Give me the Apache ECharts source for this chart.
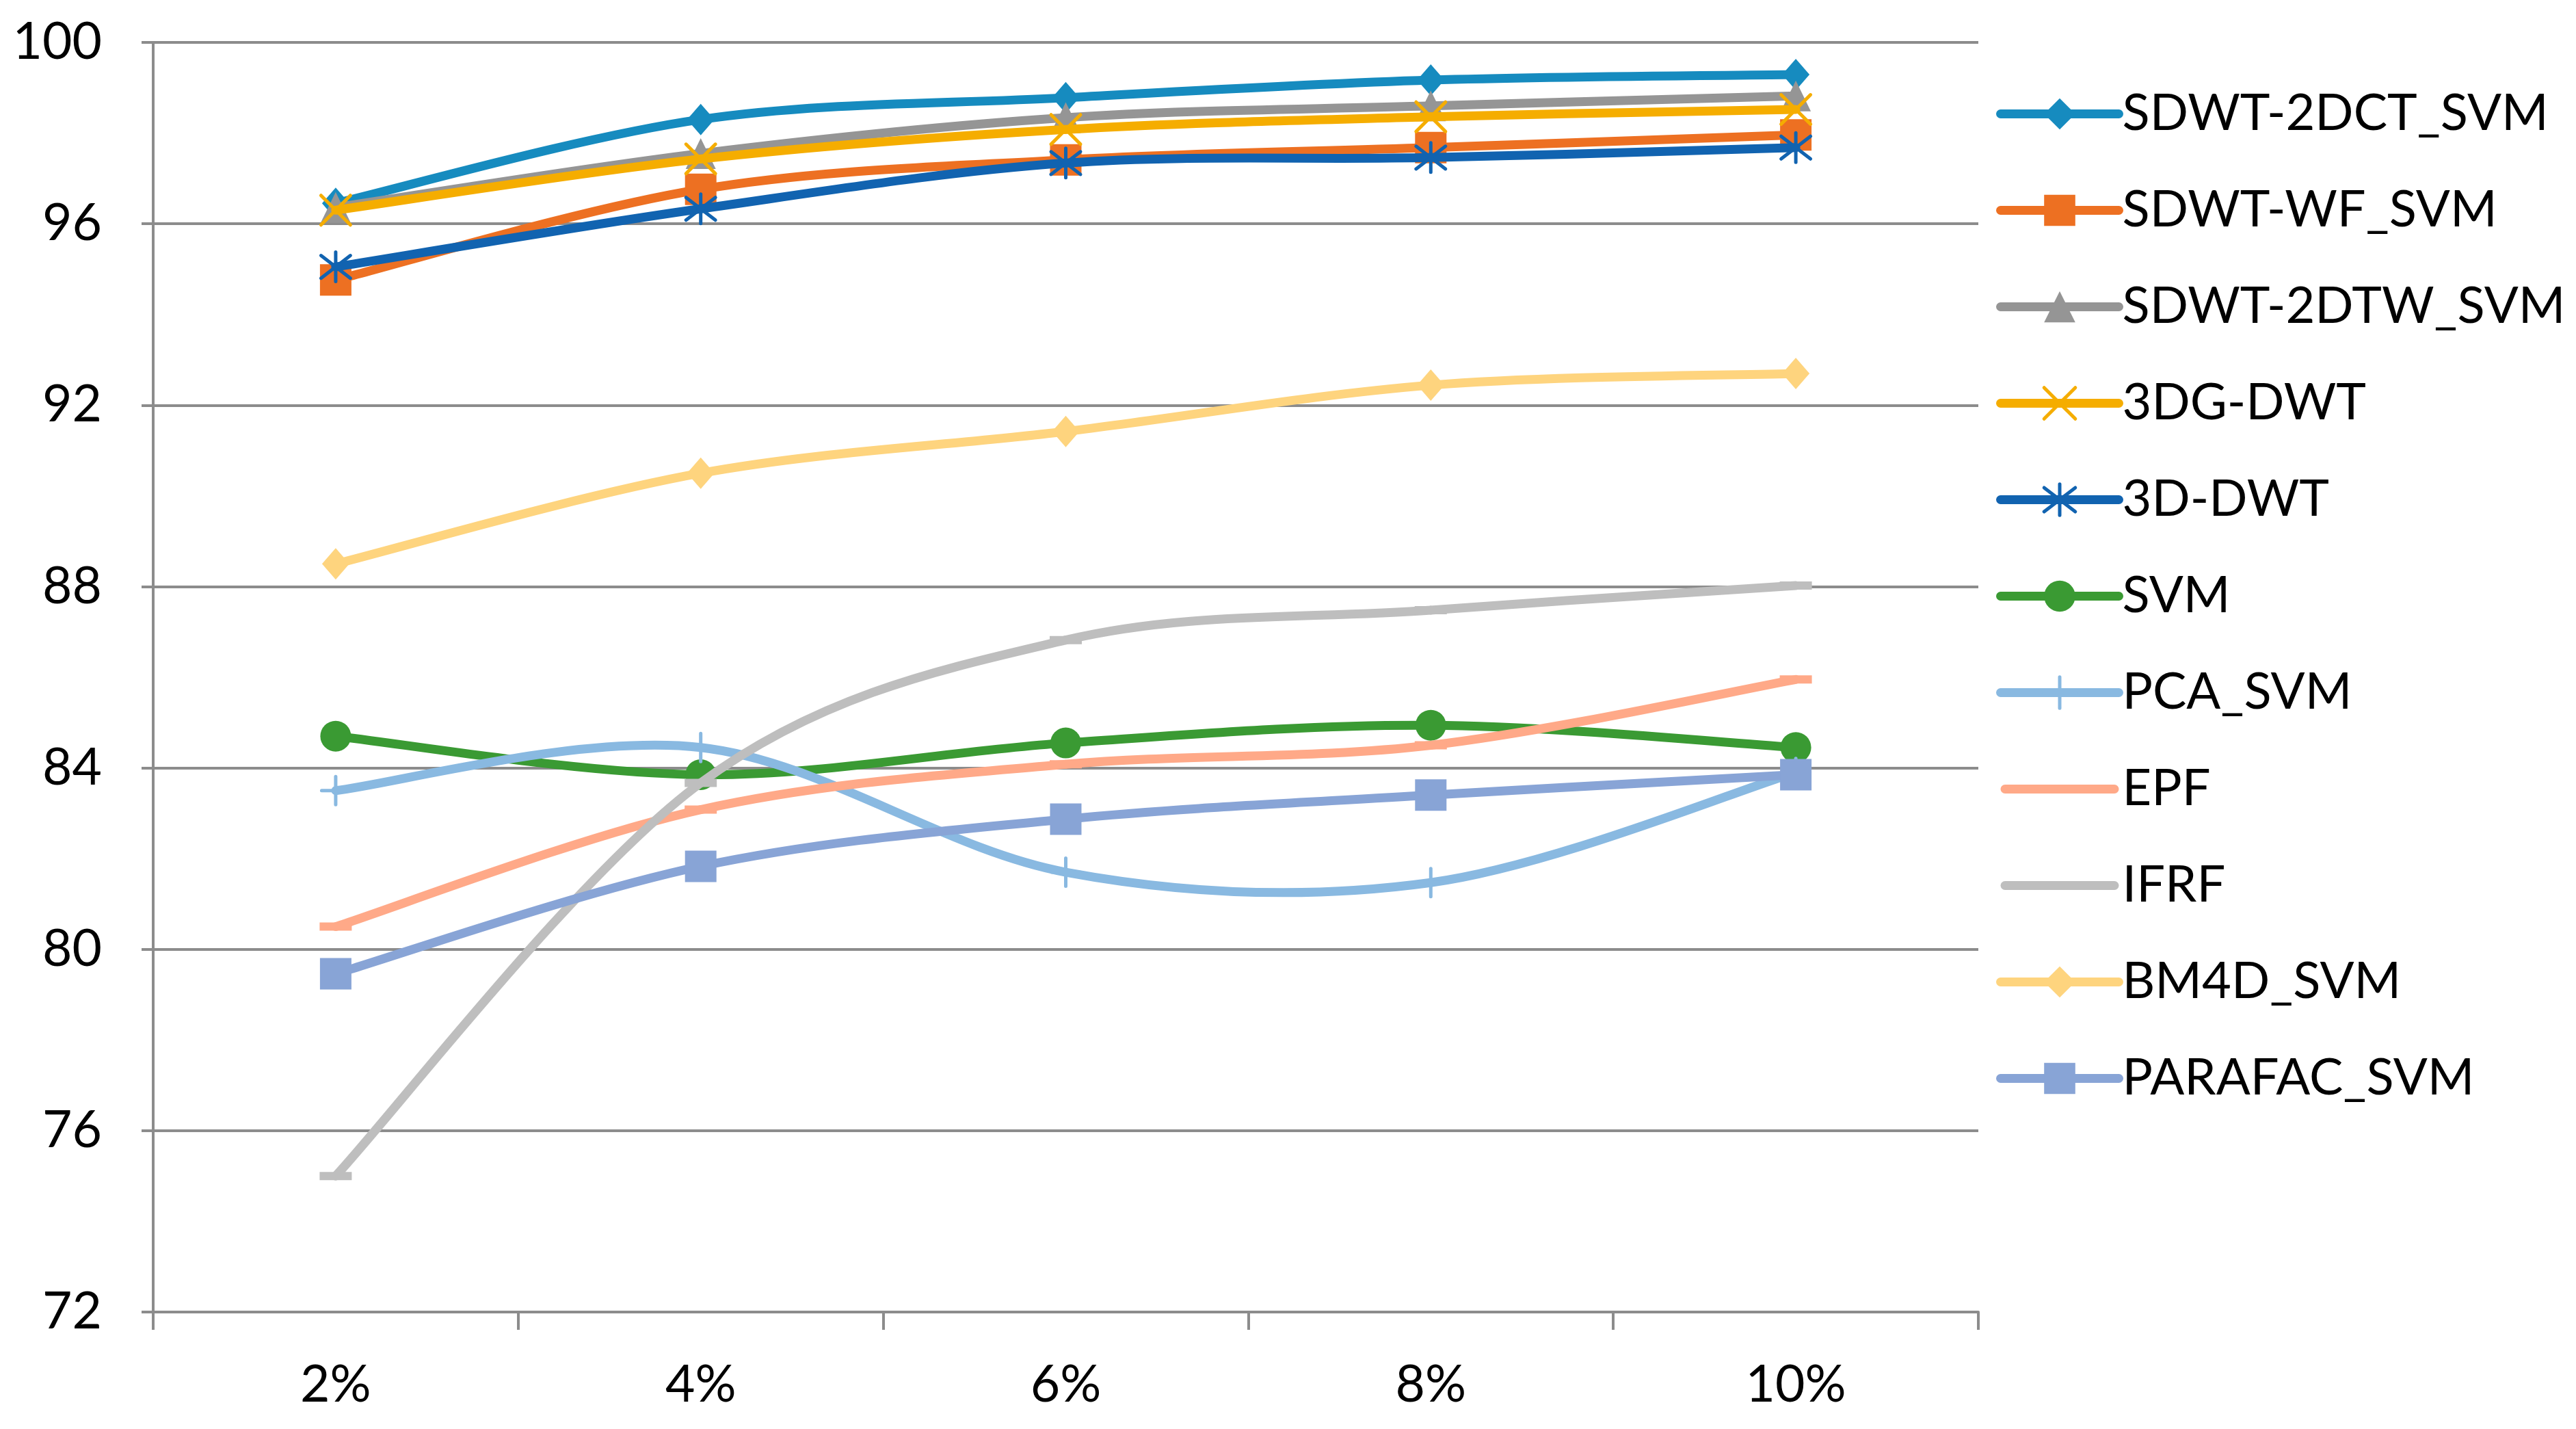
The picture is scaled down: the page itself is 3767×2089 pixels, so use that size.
<!DOCTYPE html>
<html>
<head>
<meta charset="utf-8">
<script src="https://cdn.jsdelivr.net/npm/echarts@6/dist/echarts.min.js"></script>
<style>
html,body{margin:0;padding:0;background:#ffffff;}
#chart{width:3767px;height:2089px;}
</style>
</head>
<body>
<div id="chart"></div>
<script>
// ---- data ----
const categories = ['2%', '4%', '6%', '8%', '10%'];
const yTicks = [72, 76, 80, 84, 88, 92, 96, 100];

const seriesNames = ['SDWT-2DCT_SVM', 'SDWT-WF_SVM', 'SDWT-2DTW_SVM', '3DG-DWT', '3D-DWT',
  'SVM', 'PCA_SVM', 'EPF', 'IFRF', 'BM4D_SVM', 'PARAFAC_SVM'];

const sdwt2dct   = [96.45, 98.3, 98.78, 99.17, 99.29];
const sdwtWf     = [94.76, 96.76, 97.41, 97.68, 97.96];
const sdwt2dtw   = [96.36, 97.55, 98.34, 98.6, 98.82];
const dg3dwt     = [96.3, 97.43, 98.08, 98.36, 98.52];
const d3dwt      = [95.05, 96.33, 97.34, 97.46, 97.68];
const svm        = [84.7, 83.85, 84.55, 84.94, 84.45];
const pcaSvm     = [83.5, 84.45, 81.7, 81.47, 83.9];
const epf        = [80.5, 83.08, 84.08, 84.5, 85.95];
const ifrf       = [75.0, 83.67, 86.82, 87.48, 88.02];
const bm4dSvm    = [88.5, 90.5, 91.42, 92.44, 92.7];
const parafacSvm = [79.46, 81.83, 82.87, 83.4, 83.85];

const seriesValues = [sdwt2dct, sdwtWf, sdwt2dtw, dg3dwt, d3dwt, svm, pcaSvm, epf, ifrf, bm4dSvm, parafacSvm];

// ---- styles ----
const colors = ['#168bbf', '#ed7022', '#959595', '#f5ad00', '#1163b0',
  '#3a9a33', '#89b9e1', '#ffa988', '#bebebe', '#fed47e', '#88a4d6'];

const X_PATH = 'path://M0,0L10,10M10,0L0,10';
const AST_PATH = 'path://M0,0L10,10M10,0L0,10M5,-1.5L5,11.5';
const PLUS_PATH = 'path://M5,0L5,10M0,5L10,5';
const LEG_LINE = 'path://M6.5,0L166.5,0A6.5,6.5 0 0 1 166.5,13L6.5,13A6.5,6.5 0 0 1 6.5,0Z';

const symbols = [
  {symbol: 'diamond', size: [40, 46], stroke: false},
  {symbol: 'rect', size: [46, 46], stroke: false},
  {symbol: 'triangle', size: [44, 45], stroke: false},
  {symbol: X_PATH, size: [43, 43], stroke: true},
  {symbol: AST_PATH, size: [43, 43], stroke: true},
  {symbol: 'circle', size: [45, 45], stroke: false},
  {symbol: PLUS_PATH, size: [41, 41], stroke: true},
  {symbol: 'rect', size: [47, 12], stroke: false, dash: true},
  {symbol: 'rect', size: [47, 12], stroke: false, dash: true},
  {symbol: 'diamond', size: [40, 46], stroke: false},
  {symbol: 'rect', size: [46, 46], stroke: false}
];

const FONT = 'Lato';
const AXIS_FS = 75;
const LEG_FS = 74;
const AXIS_COLOR = '#8c8c8c';
const LINE_W = 13;

// Smooth curve (Catmull-Rom style, like spreadsheet smoothing) drawn segment by segment
function curveRenderer(color) {
  return function (params, api) {
    const i = params.dataIndexInside;
    const n = params.dataInsideLength;
    if (i >= n - 1) return null;
    const pt = (k) => {
      const kk = Math.max(0, Math.min(n - 1, k));
      return api.coord([api.value(0, kk), api.value(1, kk)]);
    };
    const p0 = pt(i - 1), p1 = pt(i), p2 = pt(i + 1), p3 = pt(i + 2);
    const c1 = [p1[0] + (p2[0] - p0[0]) / 6, p1[1] + (p2[1] - p0[1]) / 6];
    const c2 = [p2[0] - (p3[0] - p1[0]) / 6, p2[1] - (p3[1] - p1[1]) / 6];
    const d = 'M' + p1[0] + ',' + p1[1] + 'C' + c1[0] + ',' + c1[1] + ' ' + c2[0] + ',' + c2[1] + ' ' + p2[0] + ',' + p2[1];
    return {
      type: 'path',
      shape: {pathData: d},
      style: {stroke: color, lineWidth: LINE_W, fill: null, lineCap: 'round', lineJoin: 'round'},
      silent: true
    };
  };
}

const series = [];
seriesNames.forEach((name, i) => {
  series.push({
    name: name + ' (curve)',
    type: 'custom',
    coordinateSystem: 'cartesian2d',
    data: seriesValues[i].map((v, j) => [j, v]),
    renderItem: curveRenderer(colors[i]),
    encode: {x: 0, y: 1},
    z: 10 + 2 * i,
    silent: true,
    animation: false
  });
  series.push({
    name: name,
    type: 'line',
    data: seriesValues[i],
    symbol: symbols[i].symbol,
    symbolSize: symbols[i].size,
    showSymbol: true,
    showAllSymbol: true,
    symbolKeepAspect: false,
    lineStyle: {color: colors[i], width: LINE_W, cap: 'round', opacity: 0},
    itemStyle: symbols[i].stroke
      ? {color: colors[i], borderColor: colors[i], borderWidth: 5, borderCap: 'round'}
      : {color: colors[i], borderWidth: 0},
    z: 11 + 2 * i,
    emphasis: {disabled: true},
    silent: true,
    animation: false
  });
});

const legendData = seriesNames.map((name, i) => {
  const item = {name: name, lineStyle: {color: colors[i], width: LINE_W, opacity: 1, cap: 'round'}};
  if (symbols[i].dash) {
    item.icon = LEG_LINE;
  }
  if (symbols[i].stroke) {
    item.itemStyle = {borderWidth: 5, borderColor: colors[i]};
  }
  return item;
});

const chart = echarts.init(document.getElementById('chart'), null, {renderer: 'canvas'});
chart.setOption({
  backgroundColor: '#ffffff',
  animation: false,
  textStyle: {fontFamily: FONT},
  grid: {left: 224, right: 874, top: 62, bottom: 171, containLabel: false, outerBoundsMode: 'none'},
  legend: {
    orient: 'vertical',
    left: 2914,
    top: 121,
    padding: 5,
    itemWidth: 173,
    itemHeight: 57,
    itemGap: 60,
    symbolKeepAspect: true,
    data: legendData,
    selectedMode: false,
    itemStyle: {borderWidth: 0},
    textStyle: {fontFamily: FONT, fontSize: LEG_FS, lineHeight: 81, color: '#000000'}
  },
  xAxis: {
    type: 'category',
    data: categories,
    boundaryGap: true,
    axisLine: {show: true, lineStyle: {color: AXIS_COLOR, width: 4}},
    axisTick: {show: true, length: 26, lineStyle: {color: AXIS_COLOR, width: 4}},
    axisLabel: {fontFamily: FONT, fontSize: AXIS_FS, color: '#000000', margin: 69},
    splitLine: {show: false}
  },
  yAxis: {
    type: 'value',
    min: yTicks[0],
    max: yTicks[yTicks.length - 1],
    interval: yTicks[1] - yTicks[0],
    axisLine: {show: true, lineStyle: {color: AXIS_COLOR, width: 4}},
    axisTick: {show: true, length: 17, lineStyle: {color: AXIS_COLOR, width: 4}},
    axisLabel: {fontFamily: FONT, fontSize: AXIS_FS, color: '#000000', margin: 75},
    splitLine: {show: true, lineStyle: {color: AXIS_COLOR, width: 4}}
  },
  series: series
});
</script>
</body>
</html>
